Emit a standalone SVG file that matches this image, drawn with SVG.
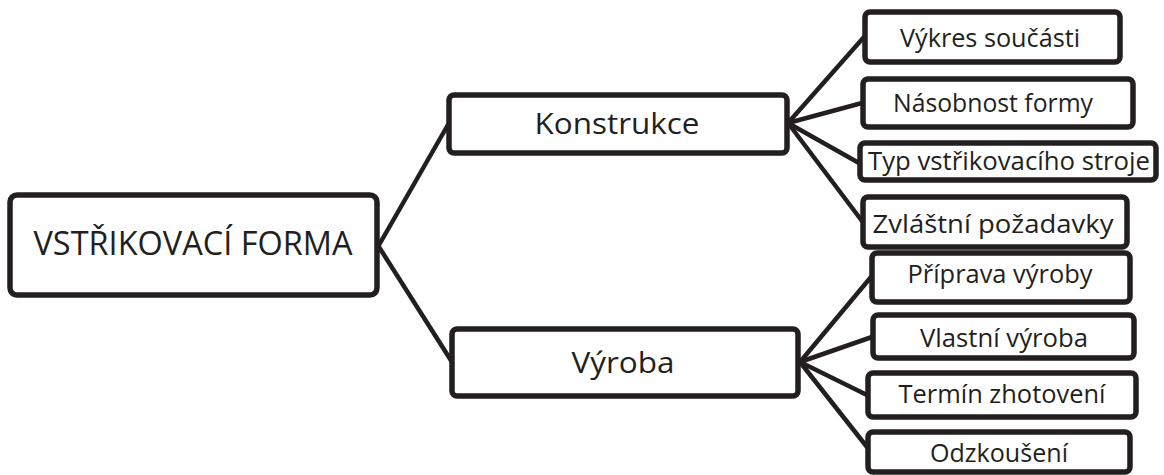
<svg xmlns="http://www.w3.org/2000/svg" width="1164" height="475" viewBox="0 0 1164 475">
<style>
.box{fill:#fff;stroke:#231f20;stroke-width:5.5;}
.lbl{font-family:"Open Sans","Noto Sans",sans-serif;fill:#231f20;text-anchor:middle;}
.l1{font-size:32px;}
.l2{font-size:30px;}
.l3{font-size:25px;}
.conn{stroke:#231f20;stroke-width:4.5;fill:none;stroke-linecap:round;}
</style>
<rect width="1164" height="475" fill="#fff"/>
<g id="connectors">
<line class="conn" x1="379" y1="245" x2="449" y2="123"/>
<line class="conn" x1="379" y1="247" x2="452" y2="362"/>
<line class="conn" x1="788" y1="123" x2="864" y2="37"/>
<line class="conn" x1="788" y1="123" x2="862" y2="103"/>
<line class="conn" x1="788" y1="123" x2="859" y2="163"/>
<line class="conn" x1="788" y1="123" x2="862" y2="221"/>
<line class="conn" x1="800" y1="362" x2="871" y2="277"/>
<line class="conn" x1="800" y1="362" x2="872" y2="337"/>
<line class="conn" x1="800" y1="362" x2="867" y2="395"/>
<line class="conn" x1="800" y1="362" x2="867" y2="447"/>
</g>
<g id="root">
<rect class="box" x="10" y="195" width="367" height="100" rx="7"/>
<text class="lbl l1" x="193" y="255" textLength="319" lengthAdjust="spacingAndGlyphs">VSTŘIKOVACÍ FORMA</text>
</g>
<g id="konstrukce">
<rect class="box" x="449" y="95" width="338" height="58" rx="5"/>
<text class="lbl l2" x="617" y="134" textLength="165" lengthAdjust="spacingAndGlyphs">Konstrukce</text>
</g>
<g id="vyroba">
<rect class="box" x="452" y="329" width="346" height="67" rx="5"/>
<text class="lbl l2" x="623" y="373" textLength="103" lengthAdjust="spacingAndGlyphs">Výroba</text>
</g>
<g id="vykres">
<rect class="box" x="865" y="12" width="255" height="50" rx="5"/>
<text class="lbl l3" x="990" y="47" textLength="180" lengthAdjust="spacingAndGlyphs">Výkres součásti</text>
</g>
<g id="nasobnost">
<rect class="box" x="863" y="79" width="270" height="48" rx="5"/>
<text class="lbl l3" x="993" y="112" textLength="200" lengthAdjust="spacingAndGlyphs">Násobnost formy</text>
</g>
<g id="typ">
<rect class="box" x="860" y="143" width="296" height="37" rx="5"/>
<text class="lbl l3" x="1009" y="170" textLength="282" lengthAdjust="spacingAndGlyphs">Typ vstřikovacího stroje</text>
</g>
<g id="zvlastni">
<rect class="box" x="863" y="197" width="264" height="50" rx="5"/>
<text class="lbl l3" x="993" y="233" textLength="241" lengthAdjust="spacingAndGlyphs">Zvláštní požadavky</text>
</g>
<g id="priprava">
<rect class="box" x="872" y="253" width="258" height="49" rx="5"/>
<text class="lbl l3" x="1000" y="283" textLength="185" lengthAdjust="spacingAndGlyphs">Příprava výroby</text>
</g>
<g id="vlastni">
<rect class="box" x="873" y="315" width="261" height="43" rx="5"/>
<text class="lbl l3" x="1004" y="347" textLength="168" lengthAdjust="spacingAndGlyphs">Vlastní výroba</text>
</g>
<g id="termin">
<rect class="box" x="868" y="373" width="268" height="44" rx="5"/>
<text class="lbl l3" x="1002" y="403" textLength="207" lengthAdjust="spacingAndGlyphs">Termín zhotovení</text>
</g>
<g id="odzkouseni">
<rect class="box" x="868" y="432" width="262" height="40" rx="5"/>
<text class="lbl l3" x="999" y="462" textLength="138" lengthAdjust="spacingAndGlyphs">Odzkoušení</text>
</g>
</svg>
